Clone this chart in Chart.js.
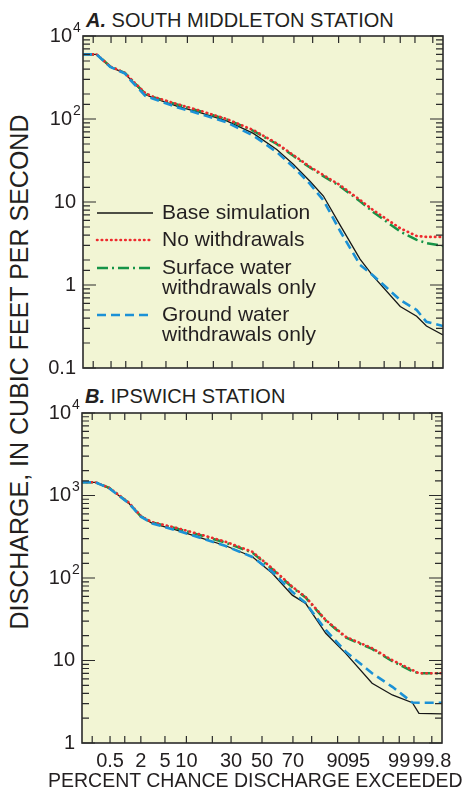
<!DOCTYPE html>
<html>
<head>
<meta charset="utf-8">
<script src="https://cdn.jsdelivr.net/npm/chart.js@4.4.1/dist/chart.umd.min.js"></script>
<style>
  body { margin: 0; background: #fff; }
  #wrap { position: relative; width: 467px; height: 789px; font-family: "Liberation Sans", Arial, sans-serif; color: #231f20; }
  canvas { position: absolute; left: 0; }
  .ptitle { position: absolute; font-size: 20px; line-height: 20px; white-space: nowrap; }
  .ptitle b { font-style: italic; }
  #ytitle { position: absolute; left: 19px; top: 372px; font-size: 25px; line-height: 25px; white-space: nowrap;
            transform: translate(-50%, -50%) rotate(-90deg); }
  #xtitle { position: absolute; left: 48px; top: 770px; font-size: 19.5px; line-height: 20px; white-space: nowrap; }
</style>
</head>
<body>
<div id="wrap">
  <div class="ptitle" style="left:86px; top:10px;"><b>A.</b> SOUTH MIDDLETON STATION</div>
  <div class="ptitle" style="left:85px; top:386px;"><b>B.</b> IPSWICH STATION</div>
  <div id="ytitle">DISCHARGE, IN CUBIC FEET PER SECOND</div>
  <canvas id="chartA" width="467" height="380" style="top:0"></canvas>
  <canvas id="chartB" width="467" height="409" style="top:380px"></canvas>
  <div id="xtitle">PERCENT CHANCE DISCHARGE EXCEEDED</div>
</div>
<script>
// percent chance exceeded (x) and discharge (y)
var pctA = [0.114, 0.24, 0.48, 0.97, 1.2, 2.3, 3.15, 7.2, 14.3, 26.9, 43.5, 59.2, 69.6, 78.7, 84.7, 90.4, 95, 96.9, 99, 99.54, 99.72, 99.886];
var baseA    = [600, 600, 425, 355, 305, 198, 180, 143, 119, 95, 67, 43, 28.5, 17.8, 11.8, 5.3, 2.05, 1.28, 0.55, 0.42, 0.32, 0.25];
var noWithA  = [600, 600, 430, 358, 312, 205, 185, 152, 126, 100, 73.6, 51, 36.8, 26.6, 21.1, 16.0, 10.6, 8.0, 4.82, 3.9, 3.8, 3.8];
var surfaceA = [600, 600, 430, 358, 310, 203, 183, 150, 124, 99, 72, 50, 36, 26, 20.5, 15.5, 10.2, 7.6, 4.4, 3.5, 3.2, 2.95];
var groundA  = [600, 600, 425, 352, 300, 190, 175, 139, 115, 91, 63, 40, 26.5, 16.5, 10.5, 4.5, 1.75, 1.3, 0.66, 0.5, 0.36, 0.32];

var pctB = [0.114, 0.24, 0.48, 1.2, 2.0, 3.15, 7.2, 15.6, 26.9, 43.5, 56.9, 69.6, 77, 86, 92.2, 96.9, 98.64, 99.46, 99.61, 99.886];
var baseB    = [1445, 1445, 1222, 804, 553, 460, 382, 303, 246, 181, 114, 62, 49.3, 21.4, 12.2, 5.3, 3.82, 3.08, 2.29, 2.26];
var noWithB  = [1445, 1445, 1240, 820, 565, 475, 407, 332, 275, 208, 131, 78.5, 59, 31, 19.4, 14.1, 10.1, 7.67, 7.0, 7.0];
var surfaceB = [1445, 1445, 1235, 815, 560, 470, 400, 325, 268, 203, 128, 77, 58, 30.5, 19, 13.8, 9.8, 7.4, 7.0, 7.0];
var groundB  = [1445, 1445, 1222, 804, 553, 458, 380, 302, 244, 180, 119, 68, 50, 23.5, 12.8, 7.0, 4.8, 3.1, 3.08, 3.08];

var seriesNames = ['Base simulation', 'No withdrawals', 'Surface water\nwithdrawals only', 'Ground water\nwithdrawals only'];

var xTickValues = [0.2, 0.5, 1, 2, 5, 10, 20, 30, 50, 70, 80, 90, 95, 98, 99, 99.5, 99.8];
var xTickLabels = ['', '0.5', '', '2', '5', '10', '', '30', '50', '70', '', '90', '95', '', '99', '', '99.8'];

// y labels: [value, base, exponent]
var yLabelsA = [[0.1, '0.1', ''], [1, '1', ''], [10, '10', ''], [100, '10', '2'], [1000, '10', '4']];
var yLabelsB = [[1, '1', ''], [10, '10', ''], [100, '10', '2'], [1000, '10', '3'], [10000, '10', '4']];

// inverse normal (Acklam)
function normInv(p) {
  var a = [-3.969683028665376e+01, 2.209460984245205e+02, -2.759285104469687e+02, 1.383577518672690e+02, -3.066479806614716e+01, 2.506628277459239e+00];
  var b = [-5.447609879822406e+01, 1.615858368580409e+02, -1.556989798598866e+02, 6.680131188771972e+01, -1.328068155288572e+01];
  var c = [-7.784894002430293e-03, -3.223964580411365e-01, -2.400758277161838e+00, -2.549732539343734e+00, 4.374664141464968e+00, 2.938163982698783e+00];
  var d = [7.784695709041462e-03, 3.224671290700398e-01, 2.445134137142996e+00, 3.754408661907416e+00];
  var pl = 0.02425, q, r;
  if (p < pl) {
    q = Math.sqrt(-2 * Math.log(p));
    return (((((c[0]*q+c[1])*q+c[2])*q+c[3])*q+c[4])*q+c[5]) / ((((d[0]*q+d[1])*q+d[2])*q+d[3])*q+1);
  }
  if (p > 1 - pl) {
    q = Math.sqrt(-2 * Math.log(1 - p));
    return -(((((c[0]*q+c[1])*q+c[2])*q+c[3])*q+c[4])*q+c[5]) / ((((d[0]*q+d[1])*q+d[2])*q+d[3])*q+1);
  }
  q = p - 0.5; r = q * q;
  return (((((a[0]*r+a[1])*r+a[2])*r+a[3])*r+a[4])*r+a[5])*q / (((((b[0]*r+b[1])*r+b[2])*r+b[3])*r+b[4])*r+1);
}
function normCdf(z) {
  var t = 1 / (1 + 0.3275911 * Math.abs(z) / Math.SQRT2);
  var y = 1 - (((((1.061405429*t - 1.453152027)*t) + 1.421413741)*t - 0.284496736)*t + 0.254829592)*t*Math.exp(-z*z/2);
  return z >= 0 ? (1 + y) / 2 : (1 - y) / 2;
}

// normal-probability axis
class ProbabilityScale extends Chart.LinearScale {
  determineDataLimits() {
    this.min = this.options.min;
    this.max = this.options.max;
  }
  buildTicks() {
    return xTickValues.map(function(v) { return { value: v }; });
  }
  configure() {
    super.configure();
    this._zMin = normInv(this.min / 100);
    this._zMax = normInv(this.max / 100);
  }
  getPixelForValue(value) {
    var z = normInv(value / 100);
    return this.getPixelForDecimal((z - this._zMin) / (this._zMax - this._zMin));
  }
  getValueForPixel(pixel) {
    var dec = this.getDecimalForPixel(pixel);
    return 100 * normCdf(this._zMin + dec * (this._zMax - this._zMin));
  }
}
ProbabilityScale.id = 'probability';
ProbabilityScale.defaults = {};
Chart.register(ProbabilityScale);

var FONT = '"Liberation Sans", Arial, sans-serif';
var INK = '#231f20';

var styles = [
  { borderColor: '#161616', borderWidth: 1.3, borderDash: [], order: 3 },
  { borderColor: '#ee2a2e', borderWidth: 2.6, borderDash: [0.5, 4.2], borderCapStyle: 'round', order: 1 },
  { borderColor: '#159447', borderWidth: 2.5, borderDash: [11, 4, 2, 4], order: 2 },
  { borderColor: '#1b91d6', borderWidth: 2.6, borderDash: [9, 5], order: 0 }
];

function pts(xs, ys) {
  return xs.map(function(x, i) { return { x: x, y: ys[i] }; });
}

function makeDatasets(xs, list) {
  return list.map(function(ys, i) {
    return Object.assign({
      label: seriesNames[i],
      data: pts(xs, ys),
      pointRadius: 0,
      fill: false,
      tension: 0
    }, styles[i]);
  });
}

function isDecade(v) {
  var l = Math.log10(v);
  return Math.abs(l - Math.round(l)) < 1e-6;
}

var framePlugin = {
  id: 'frame',
  beforeDatasetsDraw: function(chart) {
    var a = chart.chartArea, ctx = chart.ctx;
    ctx.save();
    ctx.fillStyle = '#f2f5d4';
    ctx.fillRect(a.left, a.top, a.right - a.left, a.bottom - a.top);
    ctx.restore();
  },
  afterDatasetsDraw: function(chart, args, opts) {
    var a = chart.chartArea, ctx = chart.ctx;
    var xs = chart.scales.x, ys = chart.scales.y;
    ctx.save();
    ctx.strokeStyle = '#2b2b2b';
    ctx.lineWidth = 1.2;
    // y ticks, inward, both sides
    ys.ticks.forEach(function(t) {
      var y = ys.getPixelForValue(t.value);
      if (y < a.top - 0.5 || y > a.bottom + 0.5) return;
      var len = isDecade(t.value) ? 13 : 7;
      ctx.beginPath();
      ctx.moveTo(a.left, y); ctx.lineTo(a.left + len, y);
      ctx.moveTo(a.right, y); ctx.lineTo(a.right - len, y);
      ctx.stroke();
    });
    // x ticks, inward, top and bottom
    xs.ticks.forEach(function(t) {
      var x = xs.getPixelForValue(t.value);
      ctx.beginPath();
      ctx.moveTo(x, a.bottom); ctx.lineTo(x, a.bottom - 7);
      ctx.moveTo(x, a.top); ctx.lineTo(x, a.top + 7);
      ctx.stroke();
    });
    // frame
    ctx.lineWidth = 1.6;
    ctx.strokeRect(a.left, a.top, a.right - a.left, a.bottom - a.top);

    // y labels
    ctx.fillStyle = INK;
    ctx.textBaseline = 'middle';
    opts.yLabels.forEach(function(l) {
      var y = ys.getPixelForValue(l[0]);
      var R = a.left - 7;
      if (l[2]) {
        ctx.font = '20px ' + FONT;
        ctx.textAlign = 'right';
        ctx.fillText(l[1], R - 4, y);
        ctx.font = '14px ' + FONT;
        ctx.textAlign = 'left';
        ctx.fillText(l[2], R - 3, y - 8);
      } else {
        ctx.font = '20px ' + FONT;
        ctx.textAlign = 'right';
        ctx.fillText(l[1], R, y);
      }
    });

    // legend
    if (opts.legend) {
      var L = opts.legend;
      chart.data.datasets.forEach(function(ds, i) {
        var y = L.rows[i];
        ctx.save();
        ctx.strokeStyle = ds.borderColor;
        ctx.lineWidth = ds.borderWidth;
        ctx.setLineDash(ds.borderDash || []);
        ctx.lineCap = ds.borderCapStyle || 'butt';
        ctx.beginPath();
        ctx.moveTo(L.x0, y); ctx.lineTo(L.x1, y);
        ctx.stroke();
        ctx.restore();
        ctx.font = '21px ' + FONT;
        ctx.textAlign = 'left';
        ctx.fillStyle = INK;
        ds.label.split('\n').forEach(function(line, k) {
          ctx.fillText(line, L.tx, y + k * 20);
        });
      });
    }
    ctx.restore();
  }
};

function makeConfig(xs, series, yMin, yMax, yLabels, legend, showX) {
  return {
    type: 'line',
    data: { datasets: makeDatasets(xs, series) },
    plugins: [framePlugin],
    options: {
      responsive: false,
      animation: false,
      events: [],
      layout: { padding: showX ? { top: 33, left: 82, right: 25, bottom: 0 } : { top: 36, left: 83, right: 24, bottom: 12 } },
      plugins: {
        legend: { display: false },
        tooltip: { enabled: false },
        frame: { yLabels: yLabels, legend: legend }
      },
      scales: {
        x: {
          type: 'probability',
          position: 'bottom',
          min: 0.114,
          max: 99.886,
          grid: { display: false, drawTicks: false },
          border: { display: false },
          ticks: {
            display: showX,
            autoSkip: false,
            maxRotation: 0,
            padding: 6,
            color: INK,
            font: { family: FONT, size: 20 },
            callback: function(v, i) { return xTickLabels[i]; }
          },
          afterFit: function(s) {
            s.height = showX ? 46 : 0;
            s.paddingLeft = 0;
            s.paddingRight = 0;
          }
        },
        y: {
          type: 'logarithmic',
          min: yMin,
          max: yMax,
          grid: { display: false, drawTicks: false },
          border: { display: false },
          ticks: { display: false },
          afterFit: function(s) { s.width = 0; }
        }
      }
    }
  };
}

new Chart(document.getElementById('chartA'), makeConfig(pctA, [baseA, noWithA, surfaceA, groundA], 0.1, 1000, yLabelsA,
  { x0: 97, x1: 153, tx: 162, rows: [213, 240, 268, 315] }, false));
new Chart(document.getElementById('chartB'), makeConfig(pctB, [baseB, noWithB, surfaceB, groundB], 1, 10000, yLabelsB,
  null, true));
</script>
</body>
</html>
